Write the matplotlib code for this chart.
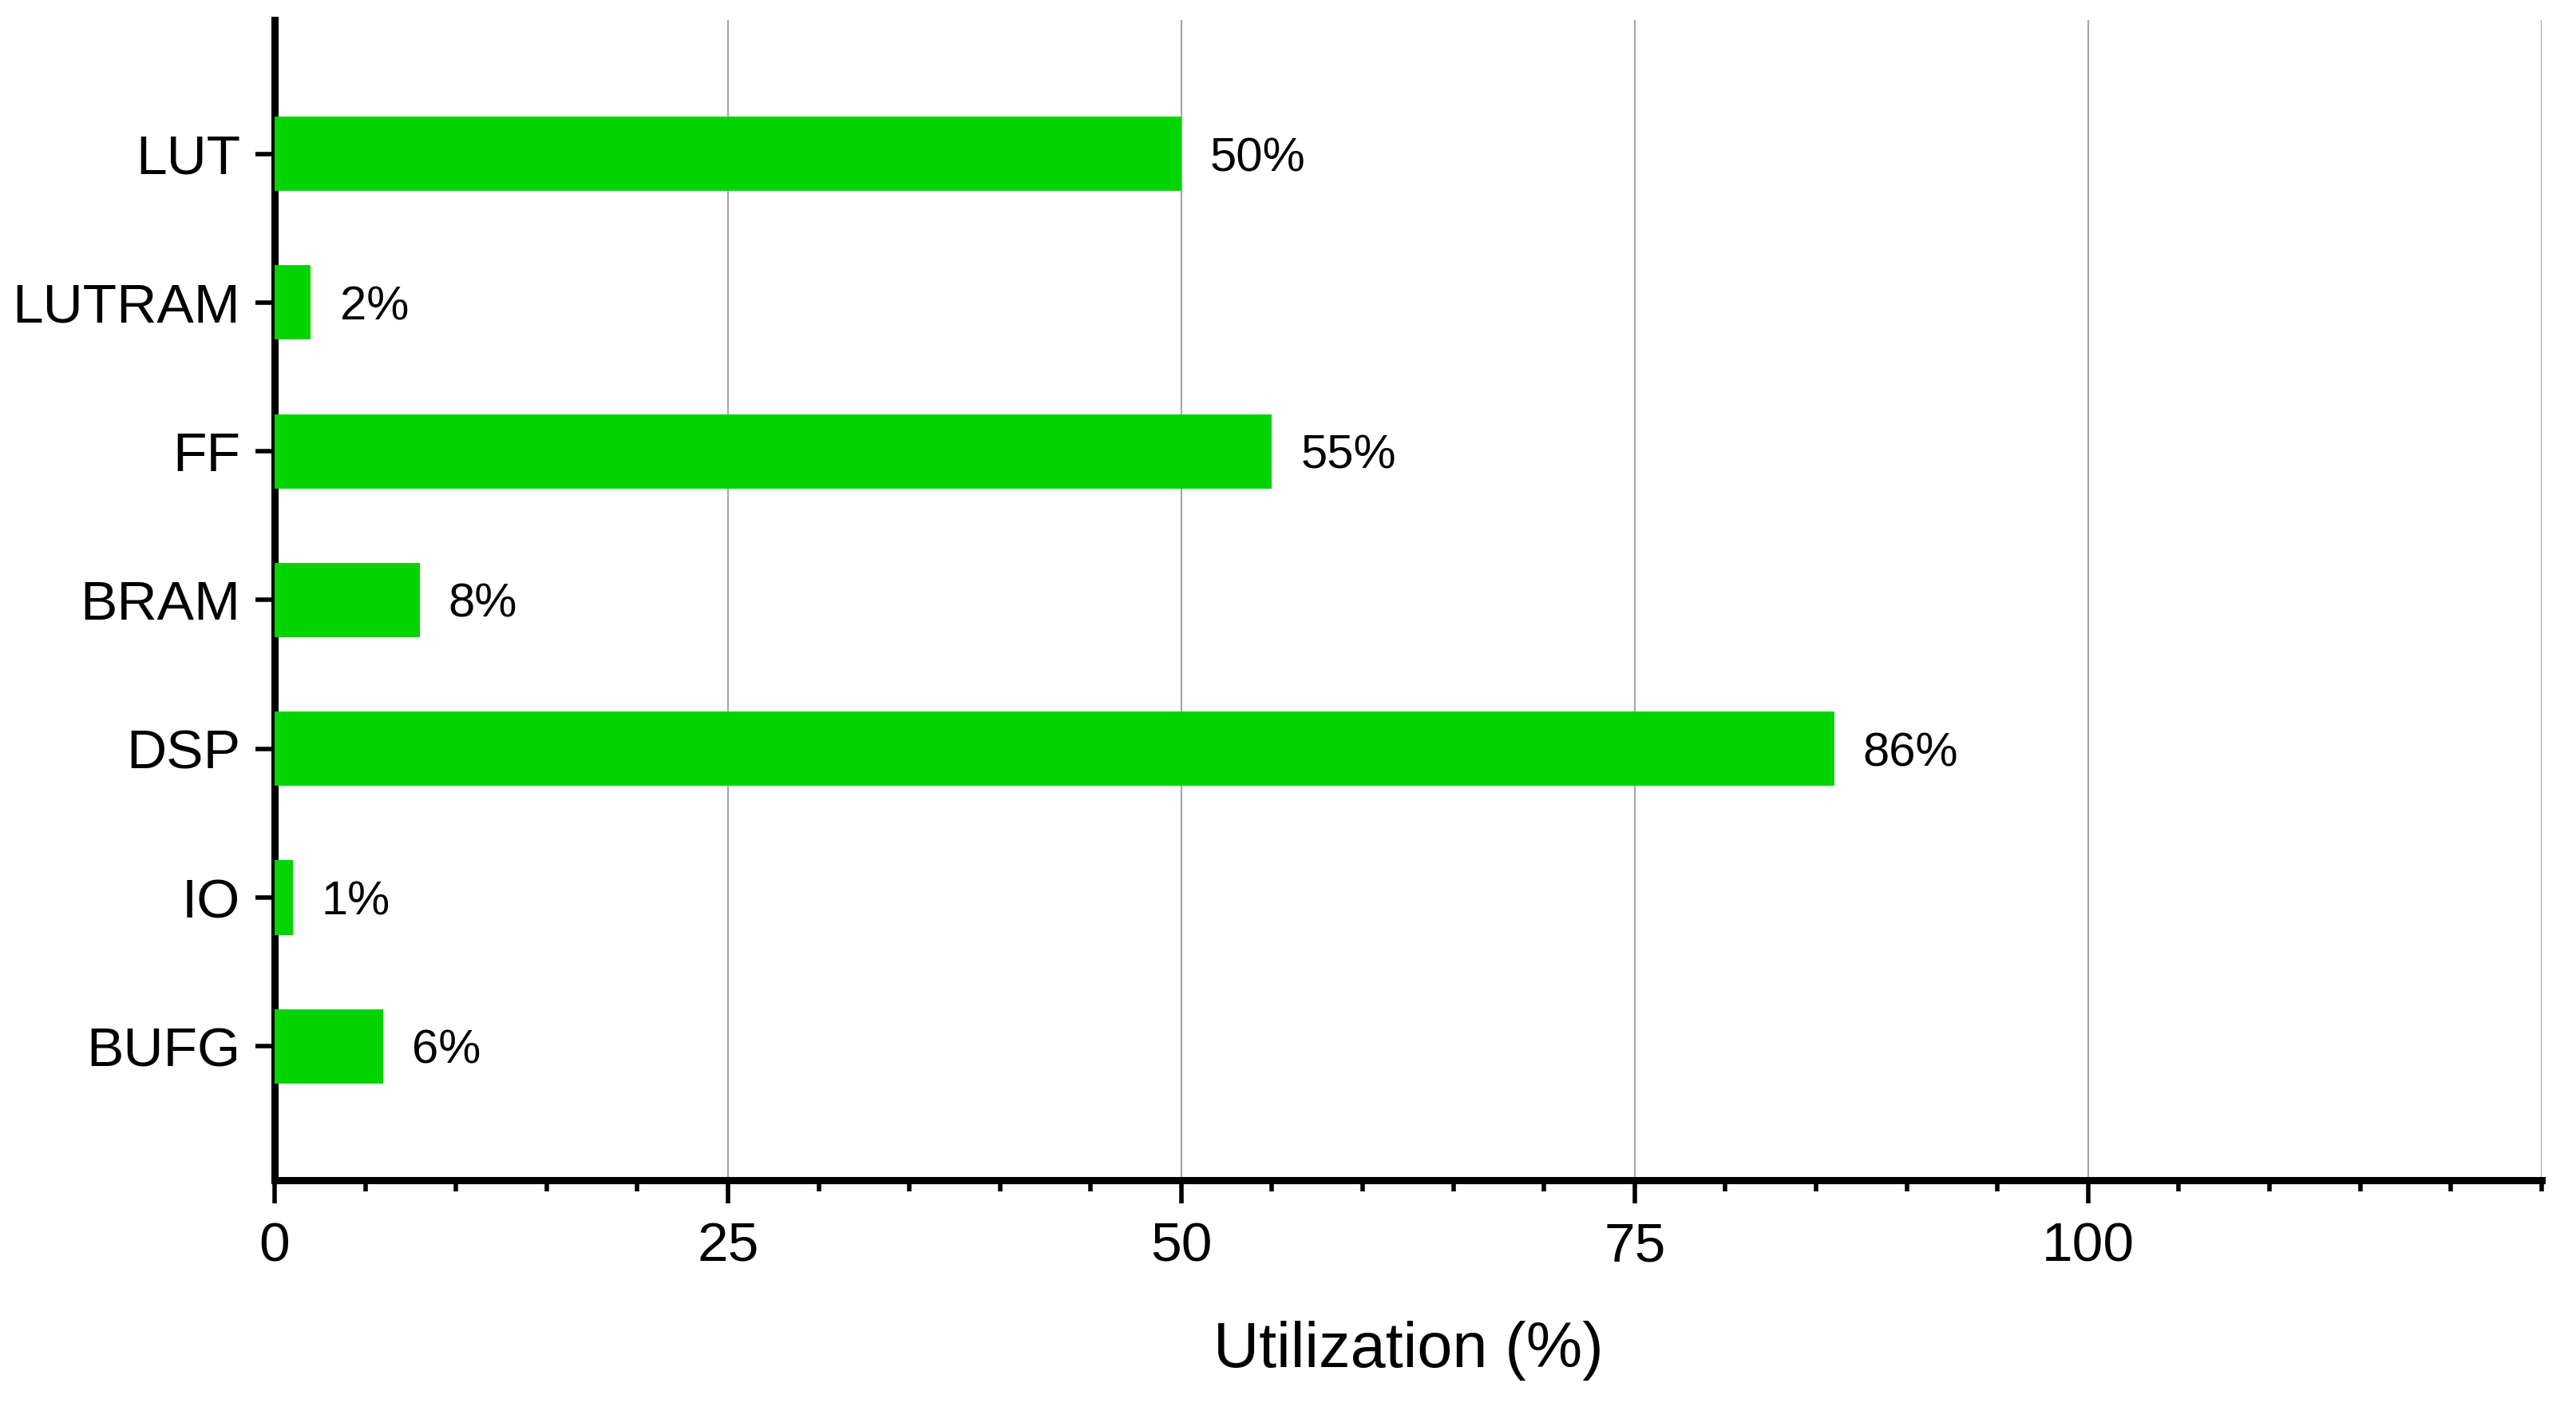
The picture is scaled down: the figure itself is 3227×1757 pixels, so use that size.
import numpy as np
import matplotlib.pyplot as plt
from matplotlib.ticker import MultipleLocator

plt.rcParams['font.family'] = ['Liberation Sans', 'DejaVu Sans']

resources = ['LUT', 'LUTRAM', 'FF', 'BRAM', 'DSP', 'IO', 'BUFG']
utilization = [50, 2, 55, 8, 86, 1, 6]

bar_color = '#02d402'

fig = plt.figure(figsize=(32.27, 17.57), dpi=100)
ax = fig.add_axes([0.1066, 0.1588, 0.88, 0.827])

ypos = np.arange(len(resources))[::-1]
ax.barh(ypos, utilization, height=0.5, color=bar_color, zorder=3)

# value labels right of each bar
for y, v in zip(ypos, utilization):
    ax.annotate(f'{v}%', (v, y), xytext=(26, 0), textcoords='offset points',
                va='center_baseline', ha='left', fontsize=43)

ax.set_xlim(0, 125)
ax.set_ylim(-0.9, 6.9)
ax.set_yticks(ypos)
ax.set_yticklabels(resources, fontsize=50)
ax.xaxis.set_minor_locator(MultipleLocator(5))
ax.set_xticks([0, 25, 50, 75, 100])
ax.set_xticklabels(['0', '25', '50', '75', '100'], fontsize=50)

ax.grid(axis='x', color='#a8a8a8', linewidth=1.6, zorder=0)
ax.axvline(125, color='#a8a8a8', linewidth=1.6, zorder=0)

for s in ['top', 'right']:
    ax.spines[s].set_visible(False)
for s in ['left', 'bottom']:
    ax.spines[s].set_linewidth(6.5)

ax.tick_params(axis='x', which='major', direction='out', length=21, width=4, pad=16)
ax.tick_params(axis='x', which='minor', direction='out', length=10, width=4)
ax.tick_params(axis='y', direction='out', length=17, width=4, pad=14)

ax.set_xlabel('Utilization (%)', fontsize=57, labelpad=44)

fig.savefig('out.png', dpi=100, facecolor='white')
